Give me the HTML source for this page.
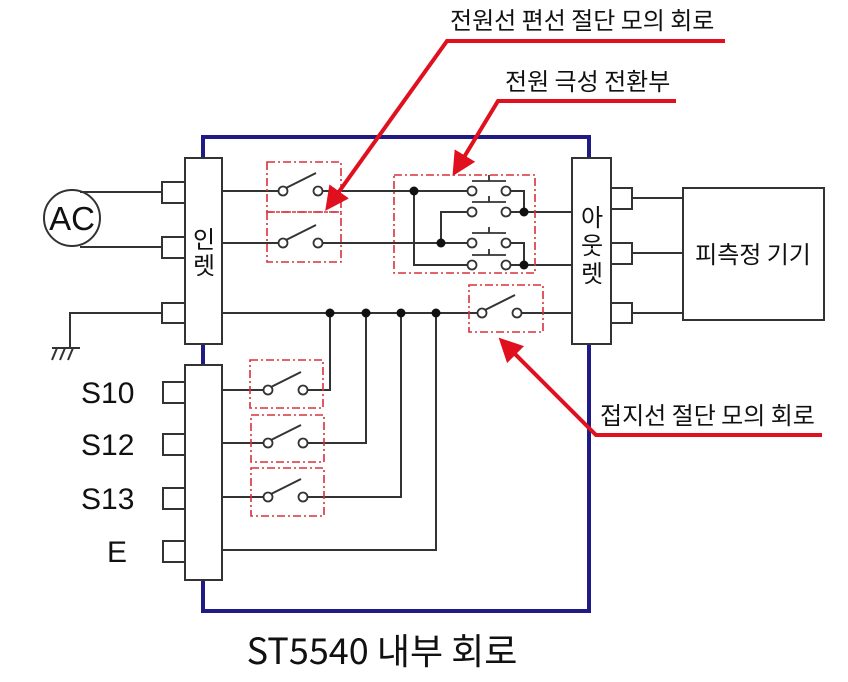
<!DOCTYPE html>
<html><head><meta charset="utf-8"><style>
html,body{margin:0;padding:0;background:#fff;width:848px;height:682px;overflow:hidden}
text{font-family:"Liberation Sans","Noto Sans CJK KR",sans-serif;fill:#111}
.k{font-family:"Noto Sans CJK KR",sans-serif}
</style></head><body>
<svg width="848" height="682" viewBox="0 0 848 682" xmlns="http://www.w3.org/2000/svg">
<defs>
<marker id="ah" viewBox="0 0 10 10" refX="8" refY="5" markerWidth="6" markerHeight="6" orient="auto" markerUnits="strokeWidth"><path d="M0,0 L10,5 L0,10 z" fill="#e0101e"/></marker>
<g id="sw"><circle cx="0" cy="0" r="4.5" fill="#fff" stroke="#333" stroke-width="1.8"/><circle cx="35" cy="0" r="4.5" fill="#fff" stroke="#333" stroke-width="1.8"/><line x1="3" y1="-3" x2="33" y2="-18" stroke="#333" stroke-width="2"/></g>
<g id="pb"><circle cx="0" cy="0" r="4.5" fill="#fff" stroke="#333" stroke-width="1.8"/><circle cx="34" cy="0" r="4.5" fill="#fff" stroke="#333" stroke-width="1.8"/><path d="M0,-10 H34 M17,-10 V-16" stroke="#333" stroke-width="1.8" fill="none"/></g>
</defs>
<rect x="203" y="137" width="386" height="474" fill="none" stroke="#1f1a86" stroke-width="4"/>
<g stroke="#333" stroke-width="2" fill="#fff">
<rect x="185" y="158" width="37" height="186"/>
<rect x="162" y="182" width="23" height="21"/><rect x="162" y="237" width="23" height="21"/><rect x="162" y="303" width="23" height="20"/>
<rect x="185" y="365" width="37" height="215"/>
<rect x="163" y="382" width="22" height="21"/><rect x="163" y="434" width="22" height="21"/><rect x="163" y="488" width="22" height="21"/><rect x="163" y="541" width="22" height="21"/>
<rect x="572" y="158" width="39" height="186"/>
<rect x="611" y="188" width="21" height="21"/><rect x="611" y="243" width="21" height="21"/><rect x="611" y="303" width="21" height="20"/>
<rect x="683" y="188" width="141" height="132"/>
<circle cx="72" cy="218" r="28"/>
</g>
<g fill="none" stroke="#333" stroke-width="2">
<path d="M80,192 H162 M80,247 H162"/>
<path d="M162,313 H70 V347"/>
<path d="M632,198 H683 M632,253 H683 M632,313 H683"/>
<path d="M222,191 H279 M222,243 H279"/>
<path d="M322,191 H468 M322,243 H468"/>
<path d="M414,191 V265 H468"/>
<path d="M441,243 V212 H468"/>
<path d="M510,191 H524 V212 M510,212 H572"/>
<path d="M510,243 H524 V265 M510,265 H572"/>
<path d="M222,313 H478 M521,313 H572"/>
<path d="M222,390 H264 M307,390 H330 V313"/>
<path d="M222,443 H264 M307,443 H366 V313"/>
<path d="M222,497 H264 M307,497 H401 V313"/>
<path d="M222,550 H436 V313"/>
<path d="M57,348 L52,360 M65,348 L60,360 M73,348 L68,360 M52,348 H80"/>
</g>
<g fill="#111">
<circle cx="414" cy="191" r="4.5"/><circle cx="441" cy="243" r="4.5"/><circle cx="524" cy="212" r="4.5"/><circle cx="524" cy="265" r="4.5"/>
<circle cx="330" cy="313" r="4.5"/><circle cx="366" cy="313" r="4.5"/><circle cx="401" cy="313" r="4.5"/><circle cx="436" cy="313" r="4.5"/>
</g>
<use href="#sw" x="283" y="191"/><use href="#sw" x="283" y="243"/>
<use href="#sw" x="482" y="313"/>
<use href="#sw" x="268" y="390"/><use href="#sw" x="268" y="443"/><use href="#sw" x="268" y="497"/>
<use href="#pb" x="472" y="191"/><use href="#pb" x="472" y="212"/><use href="#pb" x="472" y="243"/><use href="#pb" x="472" y="265"/>
<g fill="none" stroke="#d8303c" stroke-width="1.6" stroke-dasharray="8,3,2,3">
<rect x="267" y="162" width="74" height="50"/><rect x="267" y="212" width="74" height="50"/>
<rect x="394" y="175" width="141" height="98"/>
<rect x="469" y="285" width="74" height="47"/>
<rect x="250" y="360" width="73" height="48"/><rect x="251" y="415" width="73" height="47"/><rect x="251" y="468" width="73" height="48"/>
</g>
<g fill="none" stroke="#e0101e" stroke-width="4">
<path d="M725,41 H447 L328,207" marker-end="url(#ah)"/>
<path d="M676,101 H498 L455,172" marker-end="url(#ah)"/>
<path d="M822,435 H596 L502,341" marker-end="url(#ah)"/>
</g>
<text x="72" y="230" font-size="33" text-anchor="middle">AC</text>
<text x="81" y="403" font-size="30">S10</text>
<text x="81" y="455" font-size="30">S12</text>
<text x="81" y="509" font-size="30">S13</text>
<text x="107" y="562" font-size="30">E</text>
<text class="k" x="204" y="248" font-size="24" text-anchor="middle">인</text>
<text class="k" x="204" y="274" font-size="24" text-anchor="middle">렛</text>
<text class="k" x="592" y="226" font-size="24" text-anchor="middle">아</text>
<text class="k" x="592" y="254" font-size="24" text-anchor="middle">웃</text>
<text class="k" x="592" y="282" font-size="24" text-anchor="middle">렛</text>
<text class="k" x="753" y="263" font-size="24" text-anchor="middle">피측정 기기</text>
<text class="k" x="450" y="29" font-size="24">전원선 편선 절단 모의 회로</text>
<text class="k" x="505" y="90" font-size="24">전원 극성 전환부</text>
<text class="k" x="600" y="424" font-size="24">접지선 절단 모의 회로</text>
<text class="k" x="382" y="664" font-size="36" text-anchor="middle">ST5540 내부 회로</text>
</svg>
</body></html>
